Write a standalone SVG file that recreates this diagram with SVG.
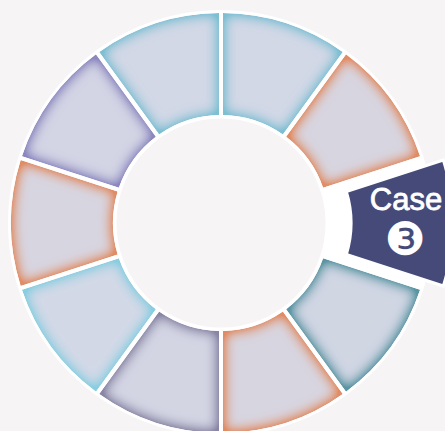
<svg xmlns="http://www.w3.org/2000/svg" width="445" height="431" viewBox="0 0 445 431">
  <defs>
    <filter id="glow" x="-5%" y="-5%" width="110%" height="110%" color-interpolation-filters="sRGB">
      <feGaussianBlur in="SourceAlpha" stdDeviation="7"/>
      <feComponentTransfer result="core"><feFuncA type="linear" slope="1.7" intercept="-0.75"/></feComponentTransfer>
      <feFlood flood-color="#d7d9e7"/>
      <feComposite in2="core" operator="in"/>
      <feComposite in2="SourceGraphic" operator="over"/>
      <feComposite in2="SourceAlpha" operator="in"/>
    </filter>
  </defs>
  <style>
    .seg { filter: url(#glow); }
    .blue { fill: #7fbfd3; }
    .lblue { fill: #88cde0; }
    .orange { fill: #e08c64; }
    .teal { fill: #5b94a2; }
    .grey { fill: #8986a5; }
    .purple { fill: #8c88bf; }
    .case { fill: #464a79; stroke: #ffffff; stroke-width: 3; stroke-linejoin: miter; }
    .lbl { font-family: "Liberation Sans", Arial, sans-serif; fill: #ffffff; text-anchor: middle; }
  </style>
  <rect width="445" height="431" fill="#f6f4f4"/>
  <circle cx="221" cy="223" r="158.75" fill="none" stroke="#ffffff" stroke-width="108.5"/>

  <g id="seg1"><path class="seg blue" d="M223,13 A210,210 0 0 1 342.817,51.930 L282.863,134.450 A108,108 0 0 0 223,115 Z"/></g>
  <g id="seg2"><path class="seg orange" d="M346.053,54.282 A210,210 0 0 1 420.104,156.204 L323.096,187.724 A108,108 0 0 0 286.099,136.802 Z"/></g>
  <g id="seg4"><path class="seg teal" d="M420.104,289.796 A210,210 0 0 1 346.053,391.718 L286.099,309.198 A108,108 0 0 0 323.096,258.276 Z"/></g>
  <g id="seg5"><path class="seg orange" d="M342.817,394.070 A210,210 0 0 1 223,433 L223,331 A108,108 0 0 0 282.863,311.550 Z"/></g>
  <g id="seg6"><path class="seg grey" d="M219,433 A210,210 0 0 1 99.183,394.070 L159.137,311.550 A108,108 0 0 0 219,331 Z"/></g>
  <g id="seg7"><path class="seg lblue" d="M95.947,391.718 A210,210 0 0 1 21.896,289.796 L118.904,258.276 A108,108 0 0 0 155.901,309.198 Z"/></g>
  <g id="seg8"><path class="seg orange" d="M20.660,285.992 A210,210 0 0 1 20.660,160.008 L117.668,191.528 A108,108 0 0 0 117.668,254.472 Z"/></g>
  <g id="seg9"><path class="seg purple" d="M21.896,156.204 A210,210 0 0 1 95.947,54.282 L155.901,136.802 A108,108 0 0 0 118.904,187.724 Z"/></g>
  <g id="seg10"><path class="seg blue" d="M99.183,51.930 A210,210 0 0 1 219,13 L219,115 A108,108 0 0 0 159.137,134.450 Z"/></g>

  <g id="case3">
    <path class="case" transform="translate(22,0)" d="M421.340,160.008 A210,210 0 0 1 421.340,285.992 L324.332,254.472 A108,108 0 0 0 324.332,191.528 Z"/>
    <text class="lbl" x="406" y="210" font-size="31" stroke="#ffffff" stroke-width="0.8">Case</text>
    <text class="lbl" x="405" y="255" font-size="46" style="font-family:'DejaVu Sans', sans-serif">❸</text>
  </g>
</svg>
